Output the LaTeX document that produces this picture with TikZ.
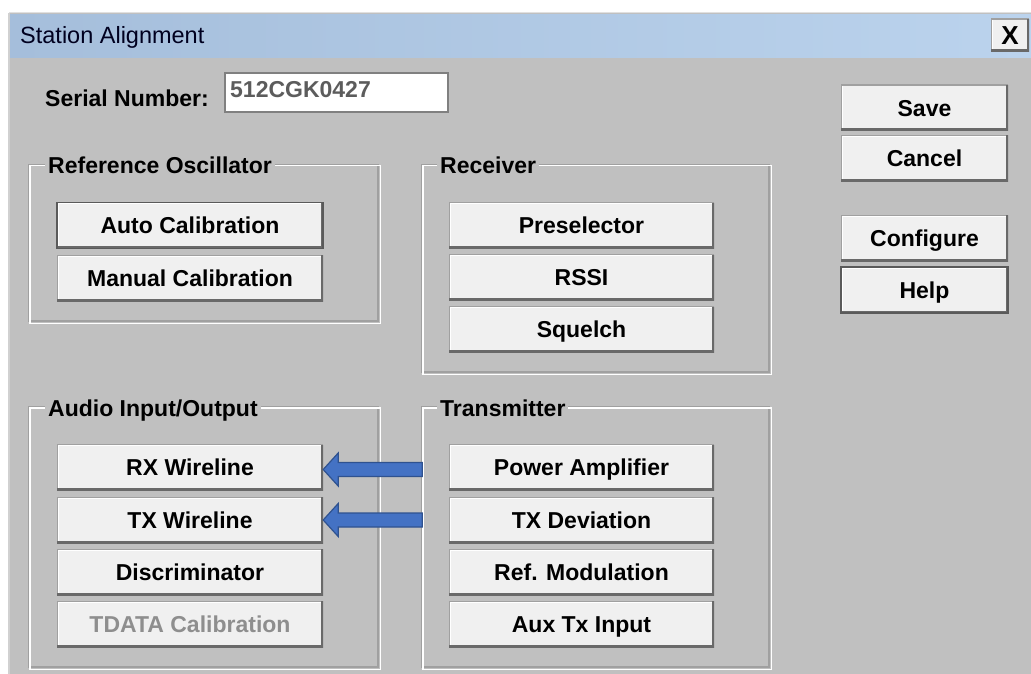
\documentclass[tikz,border=0pt]{standalone}
\usepackage{fontspec}
\setmainfont{Liberation Sans}
\usetikzlibrary{calc}
\definecolor{bg}{HTML}{C0C0C0}
\definecolor{btnface}{HTML}{F0F0F0}
\definecolor{btnshadow}{HTML}{696969}
\definecolor{etch}{HTML}{A0A0A0}
\definecolor{focusc}{HTML}{5A5A5A}
\definecolor{titleL}{HTML}{A5BEDB}
\definecolor{titleR}{HTML}{BBD3ED}
\definecolor{arrowfill}{HTML}{4472C4}
\definecolor{arrowline}{HTML}{2F528F}
\definecolor{disabled}{HTML}{8E8E8E}
\definecolor{sntext}{HTML}{5C5C5C}
\newcommand\btnfont{\fontsize{23}{26}\selectfont\bfseries}
\tikzset{
  btn/.style={fill=btnface, minimum width=266, minimum height=46, text height=16.5pt, text depth=0pt,
    font=\btnfont, inner sep=0pt,
    path picture={
      \draw[white, line width=3] (path picture bounding box.south west) |- (path picture bounding box.north east);
      \draw[etch, line width=1.4] (path picture bounding box.south west) |- (path picture bounding box.north east);
      \draw[btnshadow, line width=5] (path picture bounding box.south west) -| (path picture bounding box.north east);
    }},
  btnfocus/.style={draw=focusc, line width=1.6},
  group/.style={draw=etch, line width=1.3, fill=none, inner sep=0pt},
  gwhite/.style={draw=white, line width=1.3},
  gtitle/.style={fill=bg, font=\btnfont, text height=16.5pt, text depth=0pt, inner xsep=3pt, inner ysep=0pt, anchor=west},
  barrow/.style={fill=arrowfill, draw=arrowline, line width=1.2, line join=miter},
}
\begin{document}
\begin{tikzpicture}[x=1pt, y=-1pt]
\useasboundingbox (0,0) rectangle (1031,674);
\fill[white] (0,0) rectangle (1031,674);
% window
\fill[bg] (10,13) rectangle (1031,674);
\draw[line width=1.5, draw=black!18] (9,13) -- (9,674);
\draw[line width=1, draw=black!12] (9,12.5) -- (1031,12.5);
% title bar
\shade[left color=titleL, right color=titleR] (10,15) rectangle (1031,58);
\node[anchor=west, font=\fontsize{23.5}{26}\selectfont, text=black!88!blue, inner sep=0pt] (title) at (20,37) {Station Alignment};
\node[btn, minimum width=38, minimum height=33, font=\fontsize{26}{28}\selectfont\bfseries, text height=18pt] (close) at (1010,35.5) {X};

% serial number
\node[anchor=west, font=\btnfont, text height=16.5pt, text depth=0pt, inner sep=0pt] (snlabel) at (45,98.5) {Serial Number:};
\node[draw=black!50, line width=2, fill=white, minimum width=223, minimum height=39, inner sep=0pt] (snbox) at (336.5,92.5) {};
\node[anchor=west, font=\btnfont, text=sntext, text height=16.5pt, text depth=0pt, inner sep=0pt] (sntext) at ($(snbox.west)+(6,-3)$) {512CGK0427};

% right buttons
\node[btn, minimum width=167] (save) at (924.5,108) {Save};
\node[btn, minimum width=167] (cancel) at (924.5,158.5) {Cancel};
\node[btn, minimum width=167] (configure) at (924.5,238) {Configure};
\node[btn, btnfocus, minimum width=167] (help) at (924.5,290) {Help};

% groups
\node[group, minimum width=349, minimum height=156] (gref) at (203.5,243) {};
\draw[gwhite] ([shift={(1.5,1.5)}]gref.north west) rectangle ([shift={(1.5,1.5)}]gref.south east);
\node[gtitle] (treft) at (45,165.5) {Reference Oscillator};

\node[group, minimum width=347, minimum height=207] (grec) at (595.5,268.5) {};
\draw[gwhite] ([shift={(1.5,1.5)}]grec.north west) rectangle ([shift={(1.5,1.5)}]grec.south east);
\node[gtitle] (trect) at (437,165.5) {Receiver};

\node[group, minimum width=349, minimum height=260] (gaud) at (203.5,537) {};
\draw[gwhite] ([shift={(1.5,1.5)}]gaud.north west) rectangle ([shift={(1.5,1.5)}]gaud.south east);
\node[gtitle] (taudt) at (45,408) {Audio Input/Output};

\node[group, minimum width=347, minimum height=260] (gtx) at (595.5,537) {};
\draw[gwhite] ([shift={(1.5,1.5)}]gtx.north west) rectangle ([shift={(1.5,1.5)}]gtx.south east);
\node[gtitle] (ttxt) at (437,408) {Transmitter};

% reference oscillator buttons
\node[btn, btnfocus] (auto) at (190,225.5) {Auto Calibration};
\node[btn] (manual) at (190,278) {Manual Calibration};

% receiver buttons
\node[btn, minimum width=265] (presel) at (581.5,225.5) {Preselector};
\node[btn, minimum width=265] (rssi) at (581.5,277.5) {RSSI};
\node[btn, minimum width=265] (squelch) at (581.5,329.5) {Squelch};

% audio buttons
\node[btn] (rx) at (190,467.5) {RX Wireline};
\node[btn] (tx) at (190,520) {TX Wireline};
\node[btn] (disc) at (190,572) {Discriminator};
\node[btn, text=disabled] (tdata) at (190,624) {TDATA Calibration};

% transmitter buttons
\node[btn, minimum width=265] (pa) at (581.5,467.5) {Power Amplifier};
\node[btn, minimum width=265] (txdev) at (581.5,520) {TX Deviation};
\node[btn, minimum width=265] (refmod) at (581.5,572) {Ref. Modulation};
\node[btn, minimum width=265] (aux) at (581.5,624) {Aux Tx Input};

% arrows
\draw[barrow] ($(rx.east)+(0,2)$) -- ++(15,-16.5) -- ++(0,9.5) -- ++(84,0) -- ++(0,14) -- ++(-84,0) -- ++(0,9.5) -- cycle;
\draw[barrow] ($(tx.east)+(0,0)$) -- ++(15,-16.5) -- ++(0,9.5) -- ++(84,0) -- ++(0,14) -- ++(-84,0) -- ++(0,9.5) -- cycle;
\end{tikzpicture}
\end{document}
